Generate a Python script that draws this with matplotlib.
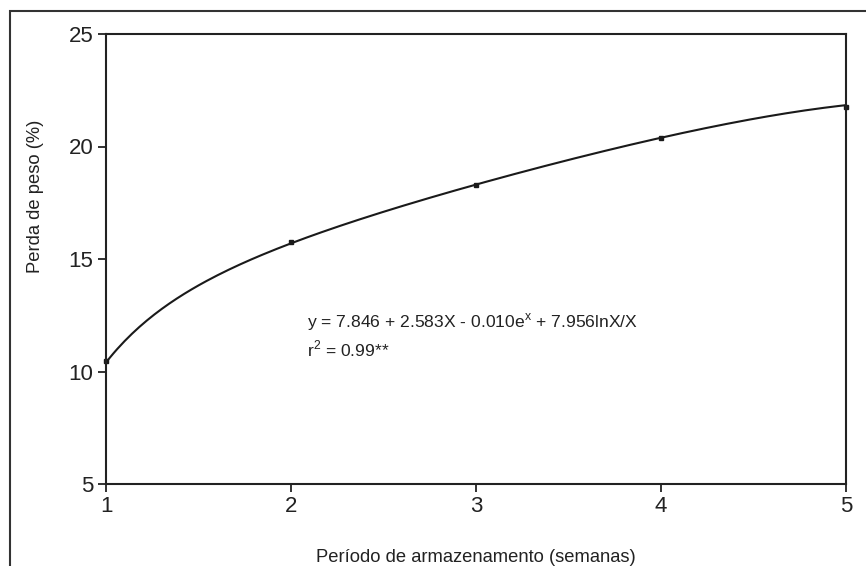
import numpy as np
import matplotlib
matplotlib.use("Agg")
import matplotlib.pyplot as plt
from matplotlib.patches import Rectangle

plt.rcParams['font.family'] = ['Liberation Sans', 'DejaVu Sans']

# observed weight loss per week
weeks = [1, 2, 3, 4, 5]
weight_loss = [10.45, 15.75, 18.3, 20.4, 21.75]

# fitted model: y = a + b*X - c*e^X + d*lnX/X
coef_a, coef_b, coef_c, coef_d = 7.846, 2.583, 0.010, 7.956

y_ticks = [5, 10, 15, 20, 25]

fig = plt.figure(figsize=(8.66, 5.66), dpi=100)
ax = fig.add_axes([106 / 866, 1 - 484 / 566, 740 / 866, 450 / 566])

# outer frame of the figure (left and top visible)
fig.patches.append(Rectangle((10 / 866, -0.1), 1.2, 1 - 11 / 566 + 0.1,
                             transform=fig.transFigure, fill=False,
                             edgecolor='#333333', linewidth=1.5))

xs = np.linspace(1, 5, 200)
fit = coef_a + coef_b * xs - coef_c * np.exp(xs) + coef_d * np.log(xs) / xs
ax.plot(xs, fit, color='#1a1a1a', linewidth=1.5, clip_on=False)
ax.plot(weeks, weight_loss, 's', color='#1a1a1a', markersize=3.5, clip_on=False)

ax.set_xlim(1, 5)
ax.set_ylim(5, 25)
ax.set_xticks(weeks)
ax.set_yticks(y_ticks)
ax.tick_params(direction='out', length=6, width=1.3, labelsize=16, color='#222222',
               labelcolor='#222222', pad=3)
for s in ax.spines.values():
    s.set_linewidth(1.5)
    s.set_color('#222222')

ax.set_xlabel('Período de armazenamento (semanas)', fontsize=13.2, color='#222222')
ax.xaxis.set_label_coords(0.5, -0.145)
ax.set_ylabel('Perda de peso (%)', fontsize=13.2, color='#222222')
ax.yaxis.set_label_coords(-0.084, 0.64)

ax.text(0.271, 0.36, r'y = 7.846 + 2.583X - 0.010e$^{\mathregular{x}}$ + 7.956lnX/X',
        transform=ax.transAxes, fontsize=12.6, color='#222222', va='center')
ax.text(0.271, 0.30, r'r$^{\mathregular{2}}$ = 0.99**',
        transform=ax.transAxes, fontsize=12.6, color='#222222', va='center')

fig.savefig('out.png', dpi=100)
